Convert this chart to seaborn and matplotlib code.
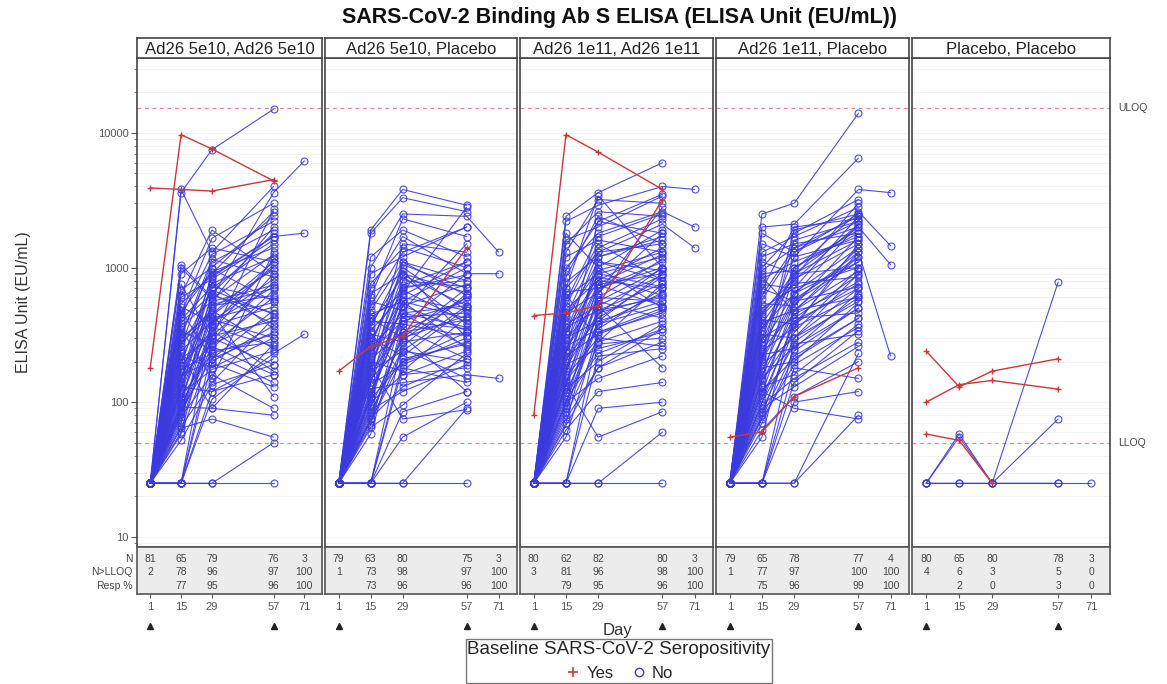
import numpy as np
import pandas as pd
import matplotlib
matplotlib.use("Agg")
import matplotlib.pyplot as plt
import matplotlib.ticker as mticker
import matplotlib.transforms as mtrans
from matplotlib.lines import Line2D
import seaborn as sns

sns.set_theme(style="white")
plt.rcParams["font.family"] = ["Liberation Sans", "DejaVu Sans"]

# ---------------- data ----------------
days = [1, 15, 29, 57, 71]
panel_titles = ["Ad26 5e10, Ad26 5e10", "Ad26 5e10, Placebo", "Ad26 1e11, Ad26 1e11",
                "Ad26 1e11, Placebo", "Placebo, Placebo"]
LLOQ = 50
ULOQ = 15400
N_ = None

# each row = one subject: values at days 1, 15, 29, 57, 71 (None / absent = not sampled)
p1_blue = [
    (25, 3600, 7500, 15000, N_), (25, 3800, 1300, 4000, N_), (25, 1050, 600, 3600, 6200),
    (25, 900, 1400, 1100, N_), (25, 750, 300, 2700, N_), (25, 620, 1900, 900, N_),
    (25, 540, 870, 1700, 1800), (25, 480, 210, 480, N_), (25, 430, 1250, 2200, N_),
    (25, 390, 640, 380, N_), (25, 350, 150, 1300, N_), (25, 320, 980, 560, N_),
    (25, 290, 480, 250, N_), (25, 260, 1100, 1900, N_), (25, 240, 400, 820, N_),
    (25, 220, 180, 300, N_), (25, 200, 700, 1500, N_), (25, 185, 340, 170, N_),
    (25, 170, 520, 620, N_), (25, 155, 270, 430, N_), (25, 140, 780, 350, N_),
    (25, 130, 120, 210, N_), (25, 120, 440, 1000, N_), (25, 110, 230, 140, N_),
    (25, 100, 560, 740, N_), (25, 92, 90, 270, N_), (25, 85, 370, 510, N_),
    (25, 78, 160, 90, N_), (25, 70, 310, 400, N_), (25, 64, 75, 55, N_),
    (25, 58, 250, 680, N_), (25, 52, 135, 190, N_), (25, 25, 410, 300, N_),
    (25, 25, 195, 130, N_), (25, 25, 25, 50, N_), (25, 25, 25, 25, N_),
    (25, 25, 105, 230, 320), (25, N_, 620, 460, N_), (25, N_, 330, 1150, N_),
    (25, N_, 260, 160, N_), (25, 680, 1000, 2400, N_), (25, 410, 720, 580, N_),
    (25, 300, 460, 110, N_), (25, 160, 200, 370, N_), (25, 95, 285, 900, N_),
    (25, 450, 1650, 3000, N_), (25, 230, 90, 80, N_), (25, 1000, 580, 1250, N_),
    (25, 600, 820, 1600), (25, 510, 390, 720), (25, 470, 930, 1400), (25, 370, 560, 2000),
    (25, 335, 270, 600), (25, 305, 1150, 850), (25, 275, 450, 1100), (25, 250, 680, 450),
    (25, 210, 310, 780), (25, 190, 850, 1700), (25, 175, 230, 320), (25, 150, 500, 960),
    (25, 135, 360, 260), (25, 125, 760, 1200), (25, 115, 175, 240), (25, 105, 420, 550),
    (25, 98, 640, 1800), (25, 88, 210, 330), (25, 82, 300, 190), (25, 74, 530, 700),
    (25, 66, 140, 420), (25, 60, 380, 1050), (25, 25, 240, 280), (25, 25, 120, 160),
    (25, N_, 900, 2600),
]
p1_red = [(180, 9700, 7600, 4400, N_), (3900, 3800, 3700, 4500, N_)]

p2_blue = [
    (25, 1900, 3800, 2900, N_), (25, 1800, 3300, 2600, N_), (25, 1000, 2500, 2400, 1300),
    (25, 900, 1200, 2000, N_), (25, 700, 1700, 900, 900), (25, 560, 480, 1500, N_),
    (25, 480, 1100, 620, N_), (25, 420, 300, 700, N_), (25, 380, 860, 380, N_),
    (25, 340, 620, 1100, N_), (25, 300, 220, 500, N_), (25, 270, 950, 300, N_),
    (25, 240, 400, 560, N_), (25, 220, 560, 250, N_), (25, 200, 170, 430, N_),
    (25, 180, 720, 800, N_), (25, 165, 350, 210, N_), (25, 150, 260, 640, N_),
    (25, 140, 520, 340, N_), (25, 125, 140, 160, 150), (25, 115, 430, 460, N_),
    (25, 105, 200, 280, N_), (25, 95, 680, 390, N_), (25, 88, 120, 190, N_),
    (25, 80, 310, 120, N_), (25, 72, 240, 520, N_), (25, 65, 95, 230, N_),
    (25, 58, 380, 310, N_), (25, 25, 180, 140, N_), (25, 25, 55, 100, N_),
    (25, 25, 25, 90, N_), (25, 25, 290, 600, N_), (25, N_, 1500, 1300, N_),
    (25, N_, 800, 720, N_), (25, N_, 460, 360, N_), (25, N_, 210, 270, N_),
    (25, 600, 2300, 1700, N_), (25, 330, 160, 180, N_), (25, 260, 1000, 480, N_),
    (25, 190, 75, 88, N_), (25, 110, 560, 1000, N_), (25, 420, 650, 2800, N_),
    (25, 1200, 1900, 1200, N_), (25, 75, 330, 410, N_), (25, 25, 25, 25, N_),
    (25, 760, 1400, 1000), (25, 640, 900, 650), (25, 520, 1300, 2000), (25, 450, 560, 420),
    (25, 400, 380, 900), (25, 360, 1050, 700), (25, 320, 280, 330), (25, 290, 740, 1100),
    (25, 255, 450, 260), (25, 230, 600, 480), (25, 210, 330, 600), (25, 185, 880, 520),
    (25, 170, 240, 200), (25, 155, 520, 750), (25, 135, 190, 300), (25, 120, 400, 350),
    (25, 110, 700, 880), (25, 100, 160, 240), (25, 92, 300, 440), (25, 84, 250, 150),
    (25, 76, 130, 210), (25, 68, 460, 520), (25, 25, 200, 330), (25, 25, 85, 120),
    (25, N_, 1100, 800),
]
p2_red = [(170, 260, 310, 1400, N_)]

p3_blue = [
    (25, 2400, 3600, 6000, N_), (25, 2200, 2900, 4000, 3800), (25, 1300, 3200, 3000, N_),
    (25, 1000, 1800, 2600, 2000), (25, 850, 2400, 1500, N_), (25, 700, 1300, 2100, 1400),
    (25, 600, 900, 1200, N_), (25, 520, 1500, 800, N_), (25, 460, 650, 1800, N_),
    (25, 400, 1100, 950, N_), (25, 360, 480, 600, N_), (25, 320, 800, 1400, N_),
    (25, 290, 560, 420, N_), (25, 260, 350, 700, N_), (25, 230, 1000, 500, N_),
    (25, 210, 420, 850, N_), (25, 190, 250, 330, N_), (25, 170, 700, 1100, N_),
    (25, 155, 300, 260, N_), (25, 140, 600, 560, N_), (25, 125, 200, 380, N_),
    (25, 112, 450, 1000, N_), (25, 100, 150, 220, N_), (25, 90, 380, 650, N_),
    (25, 80, 270, 300, N_), (25, 70, 520, 180, N_), (25, 62, 120, 140, N_),
    (25, 55, 330, 460, N_), (25, 25, 220, 250, N_), (25, 25, 90, 100, N_),
    (25, 25, 25, 60, N_), (25, N_, 1200, 1600, N_), (25, N_, 740, 520, N_),
    (25, N_, 400, 900, N_), (25, N_, 180, 350, N_), (25, 1600, 2000, 3400, N_),
    (25, 640, 280, 760, N_), (25, 430, 1400, 2300, N_), (25, 240, 760, 1250, N_),
    (25, 135, 55, 85, N_), (25, 340, 860, 620, N_), (25, 95, 640, 2800, N_),
    (25, 1800, 1000, 1900, N_), (25, 25, 25, 25, N_), (25, 700, 3400, 1000, N_),
    (25, 1500, 2600, 2400), (25, 1200, 1600, 1300), (25, 950, 2200, 3500), (25, 780, 1200, 1700),
    (25, 660, 700, 1000), (25, 560, 1700, 2500), (25, 490, 800, 700), (25, 440, 950, 1300),
    (25, 380, 520, 880), (25, 330, 1300, 1500), (25, 300, 400, 560), (25, 270, 900, 720),
    (25, 245, 600, 1150), (25, 220, 320, 480), (25, 200, 750, 900), (25, 180, 460, 620),
    (25, 160, 1100, 800), (25, 145, 280, 400), (25, 130, 560, 980), (25, 118, 380, 520),
    (25, 105, 230, 350), (25, 85, 480, 760), (25, 75, 180, 280), (25, 25, 330, 500),
    (25, N_, 2200, 1800),
]
p3_red = [(80, 9700, 7200, 3800, N_), (440, 460, 520, 3200, N_)]

p4_blue = [
    (25, 2500, 3000, 14000, N_), (25, 2000, 2100, 6500, N_), (25, 1500, 1200, 3800, 3600),
    (25, 1000, 1800, 3200, N_), (25, 900, 950, 2600, 1450), (25, 750, 700, 2400, N_),
    (25, 620, 1400, 2000, 1050), (25, 540, 520, 1700, N_), (25, 470, 820, 1500, N_),
    (25, 410, 380, 1300, 220), (25, 360, 640, 1100, N_), (25, 320, 300, 900, N_),
    (25, 280, 1000, 1900, N_), (25, 250, 450, 780, N_), (25, 225, 250, 650, N_),
    (25, 200, 580, 1200, N_), (25, 180, 200, 550, N_), (25, 160, 420, 460, N_),
    (25, 145, 330, 980, N_), (25, 130, 160, 380, N_), (25, 115, 560, 720, N_),
    (25, 100, 270, 320, N_), (25, 90, 130, 260, N_), (25, 80, 360, 1500, N_),
    (25, 70, 220, 420, N_), (25, 62, 110, 200, N_), (25, 55, 480, 600, N_),
    (25, 25, 180, 150, N_), (25, 25, 100, 120, N_), (25, 25, 25, 80, N_),
    (25, N_, 1600, 2200, N_), (25, N_, 900, 1000, N_), (25, N_, 400, 700, N_),
    (25, N_, 240, 500, N_), (25, 1800, 1300, 2500, N_), (25, 680, 2000, 2300, N_),
    (25, 440, 760, 850, N_), (25, 300, 1200, 1600, N_), (25, 210, 620, 2100, N_),
    (25, 120, 90, 75, N_), (25, 850, 470, 1400, N_), (25, 380, 850, 3000, N_),
    (25, 25, 140, 340, N_), (25, 1200, 1500, 1800, N_), (25, 25, 25, 230, N_),
    (25, 1300, 1700, 2800), (25, 1100, 900, 2000), (25, 950, 1400, 2400), (25, 820, 1100, 1700),
    (25, 700, 560, 1300), (25, 580, 1300, 2200), (25, 500, 700, 1000), (25, 450, 900, 1600),
    (25, 390, 480, 1200), (25, 340, 800, 2100), (25, 300, 420, 880), (25, 265, 650, 1400),
    (25, 240, 360, 620), (25, 215, 1000, 1800), (25, 190, 300, 700), (25, 170, 560, 1100),
    (25, 150, 260, 500), (25, 135, 480, 940), (25, 122, 210, 420), (25, 108, 380, 760),
    (25, 95, 150, 280), (25, 85, 300, 560), (25, 75, 190, 360), (25, 25, 280, 600),
    (25, N_, 1900, 2500),
]
p4_red = [(55, 60, 110, 180, N_)]

p5_blue = [(25, 25, 25, 25, 25), (25, 58, 25, 75, N_), (25, 25, 25, 780, N_), (25, 55, 25, 25, N_)]
p5_red = [(240, 130, 170, 210, N_), (100, 135, 145, 125, N_), (58, 52, 25, N_, N_)]

blue_sets = [p1_blue, p2_blue, p3_blue, p4_blue, p5_blue]
red_sets = [p1_red, p2_red, p3_red, p4_red, p5_red]

tbl_n = [[81, 65, 79, 76, 3], [79, 63, 80, 75, 3], [80, 62, 82, 80, 3],
         [79, 65, 78, 77, 4], [80, 65, 80, 78, 3]]
tbl_lloq = [[2, 78, 96, 97, 100], [1, 73, 98, 97, 100], [3, 81, 96, 98, 100],
            [1, 77, 97, 100, 100], [4, 6, 3, 5, 0]]
tbl_resp = [[N_, 77, 95, 96, 100], [N_, 73, 96, 96, 100], [N_, 79, 95, 96, 100],
            [N_, 75, 96, 99, 100], [N_, 2, 0, 3, 0]]
vacc_days = [1, 57]

# ---------------- styling ----------------
BLUE = "#3a3ade"
RED = "#cc3838"
REF = "#e58a8a"
W, H = 1167, 684
lefts = [137, 325, 520, 716, 912]
rights = [322, 517, 713, 909, 1110]
TOP_HDR, TOP_PLOT, BOT_PLOT, BOT_TBL = 38, 58, 547, 594


def to_long(rows):
    rec = []
    for i, r in enumerate(rows):
        for d, v in zip(days, r):
            if v is not None:
                rec.append({"subject": i, "day": d, "value": v})
    return pd.DataFrame(rec)


fig = plt.figure(figsize=(W / 100, H / 100), dpi=100)
fig.patch.set_facecolor("white")

for k in range(5):
    L, R = lefts[k], rights[k]
    ax = fig.add_axes([L / W, 1 - BOT_PLOT / H, (R - L) / W, (BOT_PLOT - TOP_PLOT) / H])
    axh = fig.add_axes([L / W, 1 - TOP_PLOT / H, (R - L) / W, (TOP_PLOT - TOP_HDR) / H])
    axt = fig.add_axes([L / W, 1 - BOT_TBL / H, (R - L) / W, (BOT_TBL - BOT_PLOT) / H])

    ax.set_yscale("log")
    ax.set_ylim(8.4, 36000)
    ax.set_xlim(-5, 79)
    ax.yaxis.set_major_locator(mticker.FixedLocator([10, 100, 1000, 10000]))
    ax.yaxis.set_minor_locator(mticker.LogLocator(base=10, subs=np.arange(2, 10)))
    ax.yaxis.set_major_formatter(mticker.FuncFormatter(lambda v, p: f"{int(v)}"))
    ax.yaxis.set_minor_formatter(mticker.NullFormatter())
    ax.grid(True, which="both", axis="y", color="#f1f1f1", lw=0.6)
    ax.grid(False, axis="x")
    ax.set_axisbelow(True)

    ax.axhline(ULOQ, color=REF, ls=(0, (3, 3)), lw=0.9, zorder=1)
    ax.axhline(LLOQ, color=REF, ls=(0, (3, 3)), lw=0.9, zorder=1)

    dfb = to_long(blue_sets[k])
    sns.lineplot(data=dfb, x="day", y="value", units="subject", estimator=None,
                 color=BLUE, lw=0.8, alpha=0.9, marker="o", markersize=5,
                 markerfacecolor="none", markeredgecolor=BLUE, markeredgewidth=0.8,
                 ax=ax, legend=False, zorder=2)
    dfr = to_long(red_sets[k])
    sns.lineplot(data=dfr, x="day", y="value", units="subject", estimator=None,
                 color=RED, lw=1.0, marker="+", markersize=5,
                 markeredgecolor=RED, markeredgewidth=1.0,
                 ax=ax, legend=False, zorder=3)
    ax.set_xlabel("")
    ax.set_ylabel("")
    ax.tick_params(axis="x", bottom=False, labelbottom=False)
    if k == 0:
        ax.tick_params(axis="y", which="major", left=True, length=4, width=0.8,
                       labelsize=8, colors="#555555", direction="out", pad=2)
        ax.tick_params(axis="y", which="minor", left=True, length=2, width=0.6,
                       colors="#777777", direction="out")
    else:
        ax.tick_params(axis="y", which="both", left=False, labelleft=False)
    for s in ax.spines.values():
        s.set_color("#444444")
        s.set_linewidth(1.2)

    if k == 4:
        tr = mtrans.blended_transform_factory(ax.transAxes, ax.transData)
        ax.text(1.04, ULOQ, "ULOQ", transform=tr, va="center", ha="left",
                fontsize=7.5, color="#444444")
        ax.text(1.04, LLOQ, "LLOQ", transform=tr, va="center", ha="left",
                fontsize=7.5, color="#444444")

    # header strip
    axh.set_xticks([])
    axh.set_yticks([])
    axh.set_facecolor("white")
    axh.text(0.5, 0.45, panel_titles[k], ha="center", va="center", fontsize=12,
             color="#222222", transform=axh.transAxes)
    for s in axh.spines.values():
        s.set_color("#444444")
        s.set_linewidth(1.2)

    # table strip
    axt.set_facecolor("#ececec")
    axt.set_xlim(-5, 79)
    axt.set_ylim(0, 1)
    axt.set_yticks([])
    axt.set_xticks(days)
    axt.set_xticklabels([str(d) for d in days])
    axt.tick_params(axis="x", bottom=True, length=3, width=0.8, labelsize=8,
                    colors="#555555", direction="out", pad=3)
    for s in axt.spines.values():
        s.set_color("#555555")
        s.set_linewidth(1.2)
    for j, d in enumerate(days):
        axt.text(d, 0.75, str(tbl_n[k][j]), ha="center", va="center", fontsize=7.5, color="#444444")
        axt.text(d, 0.47, str(tbl_lloq[k][j]), ha="center", va="center", fontsize=7.5, color="#444444")
        if tbl_resp[k][j] is not None:
            axt.text(d, 0.17, str(tbl_resp[k][j]), ha="center", va="center", fontsize=7.5,
                     color="#444444")
    trb = mtrans.blended_transform_factory(axt.transData, axt.transAxes)
    for d in vacc_days:
        axt.plot([d], [-0.68], marker="^", ms=4, color="#222222", transform=trb, clip_on=False)
    if k == 0:
        for lab, yy in zip(["N", "N>LLOQ", "Resp.%"], [0.75, 0.47, 0.17]):
            axt.text(-0.025, yy, lab, ha="right", va="center", fontsize=7.5,
                     color="#444444", transform=axt.transAxes)

fig.text(620 / W, 1 - 18 / H, "SARS-CoV-2 Binding Ab S ELISA (ELISA Unit (EU/mL))",
         ha="center", va="center", fontsize=15.5, fontweight="bold", color="#111111")
fig.text(24 / W, 1 - 302 / H, "ELISA Unit (EU/mL)", rotation=90, ha="center", va="center",
         fontsize=11.5, color="#333333")
fig.text(618 / W, 1 - 630 / H, "Day", ha="center", va="center", fontsize=12, color="#333333")

handles = [
    Line2D([], [], color=RED, marker="+", ls="none", ms=7, mew=1.2, label="Yes"),
    Line2D([], [], color=BLUE, marker="o", mfc="none", ls="none", ms=6, mew=1.0, label="No"),
]
leg = fig.legend(handles=handles, title="Baseline SARS-CoV-2 Seropositivity", ncol=2,
                 loc="center", bbox_to_anchor=(619 / W, 1 - 661 / H), frameon=True,
                 fontsize=12, title_fontsize=13.5, borderpad=0.1, handletextpad=0.3,
                 columnspacing=1.0, handlelength=1.0, fancybox=False, edgecolor="#555555")
leg.get_frame().set_linewidth(1.0)

fig.savefig("out.png", dpi=100, facecolor="white")
